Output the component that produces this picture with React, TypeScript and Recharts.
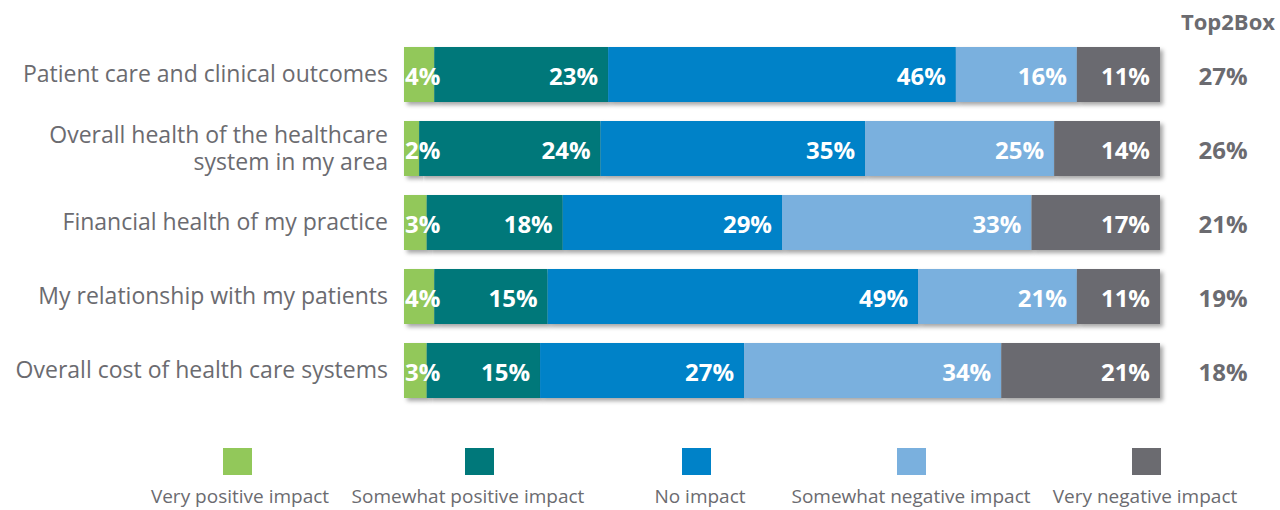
import React from 'react'
import { BarChart, Bar, XAxis, YAxis, LabelList, Legend } from 'recharts'

const categories = [
  'Patient care and clinical outcomes',
  'Overall health of the healthcare\nsystem in my area',
  'Financial health of my practice',
  'My relationship with my patients',
  'Overall cost of health care systems',
]
const veryPositive = [4, 2, 3, 4, 3]
const somewhatPositive = [23, 24, 18, 15, 15]
const noImpact = [46, 35, 29, 49, 27]
const somewhatNegative = [16, 25, 33, 21, 34]
const veryNegative = [11, 14, 17, 11, 21]
const top2Box = [27, 26, 21, 19, 18]

const SERIES = [
  { key: 'vp', name: 'Very positive impact', color: '#92C85A', values: veryPositive },
  { key: 'sp', name: 'Somewhat positive impact', color: '#00787A', values: somewhatPositive },
  { key: 'ni', name: 'No impact', color: '#0082C8', values: noImpact },
  { key: 'sn', name: 'Somewhat negative impact', color: '#7AB0DE', values: somewhatNegative },
  { key: 'vn', name: 'Very negative impact', color: '#6B6B70', values: veryNegative },
]

const data = categories.map((c, i) => {
  const row: Record<string, string | number> = { cat: c, top2: top2Box[i] }
  SERIES.forEach(s => { row[s.key] = s.values[i] })
  return row
})

const FONT = '"Open Sans", "Noto Sans", sans-serif'
const GREY = '#6B6B70'

// legend layout: square centre / label centre
const LEGEND_POS = [[237, 240], [479, 468], [696, 700], [911, 911], [1146, 1145]]

function CategoryTick(props: any) {
  const { y, payload } = props
  const lines = String(payload.value).split('\n')
  const start = y - 1 - ((lines.length - 1) * 27) / 2
  return (
    <text x={388} y={start} textAnchor="end" dominantBaseline="central" fill={GREY} fontSize={23} fontFamily={FONT}>
      {lines.map((l, i) => (
        <tspan key={i} x={388} dy={i === 0 ? 0 : 27}>{l}</tspan>
      ))}
    </text>
  )
}

function SegmentLabel(props: any) {
  const { x, y, width, height, value } = props
  const txt = `${value}%`
  const approx = txt.length * 14
  const small = width < approx + 14
  return (
    <text
      x={small ? x + 1 : x + width - 10}
      y={y + height / 2 + 1}
      textAnchor={small ? 'start' : 'end'}
      dominantBaseline="central"
      fill="#fff"
      fontSize={24}
      fontWeight={700}
      fontFamily={FONT}
    >
      {txt}
    </text>
  )
}

function Top2Label(props: any) {
  const { y, height, value } = props
  return (
    <text x={1223} y={y + height / 2 + 1} textAnchor="middle" dominantBaseline="central" fill={GREY} fontSize={24} fontWeight={700} fontFamily={FONT}>
      {`${value}%`}
    </text>
  )
}

function ShadowRect(props: any) {
  const { x, y, width, height, fill } = props
  if (!width || width <= 0) return null
  return <rect x={x} y={y} width={width} height={height} fill={fill} filter="url(#barShadow)" />
}

function LegendBox() {
  return (
    <div style={{ position: 'relative', width: 1280, height: 70, fontFamily: FONT }}>
      {SERIES.map((s, i) => (
        <React.Fragment key={s.key}>
          <div style={{ position: 'absolute', left: LEGEND_POS[i][0] - 14, top: 8, width: 29, height: 27, background: s.color }} />
          <div style={{ position: 'absolute', left: LEGEND_POS[i][1] - 150, width: 300, top: 43, textAlign: 'center', fontSize: 19, color: GREY, whiteSpace: 'nowrap' }}>
            {s.name}
          </div>
        </React.Fragment>
      ))}
    </div>
  )
}

export default function App() {
  return (
    <div style={{ position: 'absolute', left: 0, top: 0, width: 1280, height: 510, background: '#fff', fontFamily: FONT }}>
      <div style={{ position: 'absolute', left: 1176, top: 6, width: 104, textAlign: 'center', fontSize: 22, fontWeight: 700, color: GREY }}>
        Top2Box
      </div>
      <BarChart
        width={1280}
        height={510}
        data={data}
        layout="vertical"
        margin={{ top: 37, right: 120, bottom: 33, left: 0 }}
        barSize={55}
      >
        <defs>
          <filter id="barShadow" x="-10%" y="-20%" width="130%" height="160%">
            <feDropShadow dx={3} dy={3} stdDeviation={2} floodColor="#000" floodOpacity={0.35} />
          </filter>
        </defs>
        <XAxis type="number" domain={[0, 100]} hide />
        <YAxis type="category" dataKey="cat" width={404} axisLine={false} tickLine={false} tick={<CategoryTick />} interval={0} />
        {SERIES.map((s, i) => (
          <Bar key={s.key} dataKey={s.key} name={s.name} stackId="a" fill={s.color} isAnimationActive={false} shape={<ShadowRect />}>
            <LabelList dataKey={s.key} content={<SegmentLabel />} />
            {i === SERIES.length - 1 && <LabelList dataKey="top2" content={<Top2Label />} />}
          </Bar>
        ))}
        <Legend
          verticalAlign="bottom"
          content={<LegendBox />}
          wrapperStyle={{ left: 0, top: 440, width: 1280, height: 70 }}
        />
      </BarChart>
    </div>
  )
}
